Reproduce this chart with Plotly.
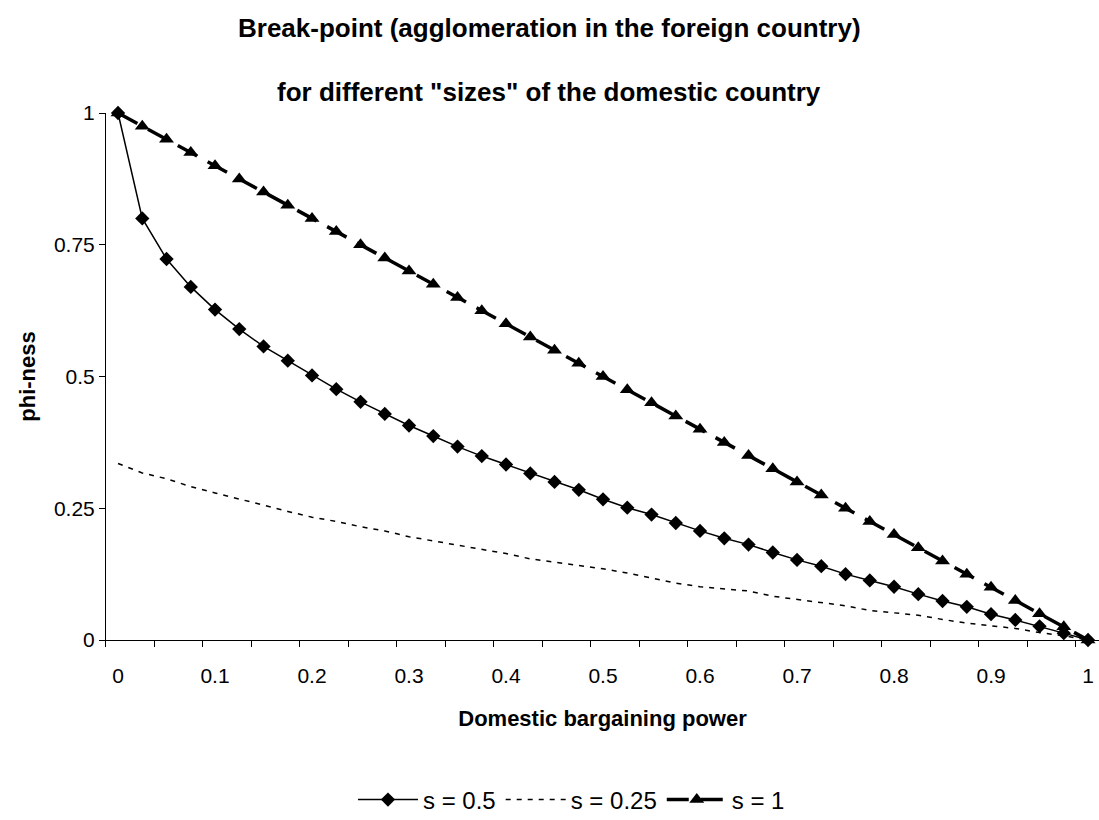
import plotly.graph_objects as go

# Domestic bargaining power (categories, step 0.025)
x_vals = [round(i * 0.025, 3) for i in range(41)]

# s = 0.5 (diamonds, solid)
s05 = [1.0, 0.800, 0.723, 0.670, 0.627, 0.590, 0.557, 0.530, 0.502, 0.476,
       0.452, 0.429, 0.407, 0.387, 0.367, 0.349, 0.333, 0.316, 0.300, 0.285,
       0.267, 0.251, 0.238, 0.222, 0.207, 0.193, 0.181, 0.166, 0.152, 0.140,
       0.125, 0.113, 0.101, 0.087, 0.074, 0.063, 0.049, 0.038, 0.026, 0.013,
       0.0]

# s = 0.25 (thin dashed, no markers)
s025 = [0.335, 0.317, 0.306, 0.291, 0.279, 0.268, 0.256, 0.244, 0.233, 0.225,
        0.215, 0.207, 0.196, 0.188, 0.180, 0.172, 0.164, 0.154, 0.148, 0.142,
        0.135, 0.127, 0.118, 0.108, 0.101, 0.097, 0.093, 0.083, 0.077, 0.072,
        0.065, 0.056, 0.051, 0.047, 0.039, 0.032, 0.027, 0.022, 0.014, 0.008,
        0.0]

# s = 1 (triangles, thick dashed)
s1 = [1.0, 0.975, 0.95, 0.925, 0.90, 0.875, 0.85, 0.825, 0.80, 0.775,
      0.75, 0.725, 0.70, 0.675, 0.65, 0.625, 0.60, 0.575, 0.55, 0.525,
      0.50, 0.475, 0.45, 0.425, 0.40, 0.375, 0.35, 0.325, 0.30, 0.275,
      0.25, 0.225, 0.20, 0.175, 0.15, 0.125, 0.10, 0.075, 0.05, 0.025,
      0.0]

x_tick_vals = [0, 0.1, 0.2, 0.3, 0.4, 0.5, 0.6, 0.7, 0.8, 0.9, 1]
x_tick_text = ["0", "0.1", "0.2", "0.3", "0.4", "0.5", "0.6", "0.7", "0.8", "0.9", "1"]
x_boundaries = [-0.0125 + 0.05 * k for k in range(21)]
y_tick_vals = [0, 0.25, 0.5, 0.75, 1]
y_tick_text = ["0", "0.25", "0.5", "0.75", "1"]

FONT = "Liberation Sans, Arial, sans-serif"

fig = go.Figure()
fig.add_trace(go.Scatter(
    x=x_vals, y=s05, name="s = 0.5", mode="lines+markers",
    line=dict(color="black", width=1.5),
    marker=dict(symbol="diamond", size=11, color="black"),
    cliponaxis=False))
fig.add_trace(go.Scatter(
    x=x_vals, y=s025, name="s = 0.25", mode="lines",
    line=dict(color="black", width=1.5, dash="5px,6px"),
    cliponaxis=False))
fig.add_trace(go.Scatter(
    x=x_vals, y=s1, name="s = 1", mode="lines+markers",
    line=dict(color="black", width=3.5, dash="22px,12px"),
    marker=dict(symbol="triangle-up", size=13, color="black"),
    cliponaxis=False))

fig.update_layout(
    width=1099, height=820,
    paper_bgcolor="white", plot_bgcolor="white",
    margin=dict(l=106, r=0, t=113, b=180),
    font=dict(family=FONT, size=21, color="black"),
    showlegend=True,
    legend=dict(orientation="h", xref="container", yref="container",
                x=0.52, xanchor="center", y=0.0244, yanchor="middle",
                font=dict(size=24), itemwidth=60),
    annotations=[
        dict(text="<b>Break-point (agglomeration in the foreign country)</b>",
             xref="paper", yref="paper", x=0.4466, y=1.161,
             xanchor="center", yanchor="middle", showarrow=False,
             font=dict(size=26)),
        dict(text="<b>for different \"sizes\" of the domestic country</b>",
             xref="paper", yref="paper", x=0.4466, y=1.040,
             xanchor="center", yanchor="middle", showarrow=False,
             font=dict(size=26)),
    ],
)

fig.update_xaxes(
    range=[-0.0124, 1.0113], showgrid=False, zeroline=False,
    showline=True, linecolor="black", linewidth=1,
    tickmode="array", tickvals=x_tick_vals, ticktext=x_tick_text,
    ticks="", ticklabelstandoff=17,
    minor=dict(tickmode="array", tickvals=x_boundaries, ticks="outside",
               ticklen=6, tickcolor="black", tickwidth=1, showgrid=False),
    title=dict(text="<b>Domestic bargaining power</b>", font=dict(size=22),
               standoff=24),
)
fig.update_yaxes(
    range=[0, 1], showgrid=False, zeroline=False,
    showline=True, linecolor="black", linewidth=1,
    tickmode="array", tickvals=y_tick_vals, ticktext=y_tick_text,
    ticks="outside", ticklen=6, tickcolor="black",
    title=dict(text="<b>phi-ness</b>", font=dict(size=22), standoff=12),
)

fig.write_html("out.html", config={"displayModeBar": False},
               post_script="document.body.style.margin='0';document.body.style.padding='0';")
